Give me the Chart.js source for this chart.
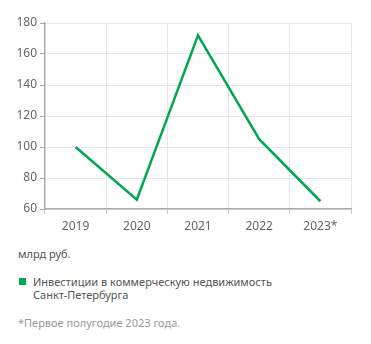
<!DOCTYPE html>
<html>
<head>
<meta charset="utf-8">
<script src="https://cdn.jsdelivr.net/npm/chart.js@4/dist/chart.umd.min.js"></script>
<style>
  body { margin: 0; background: #fff; font-family: "Noto Sans", sans-serif; }
  #wrap { position: relative; width: 371px; height: 240px; }
  .unit { position: absolute; left: 18px; top: 246px; font-size: 11px; color: #555; }
  .legend { position: absolute; left: 19px; top: 275px; font-size: 11px; color: #555; line-height: 13px; }
  .legend .box { position: absolute; left: 0; top: 3px; width: 7px; height: 7px; background: #00a651; }
  .legend .txt { margin-left: 14px; }
  .note { position: absolute; left: 18px; top: 315px; font-size: 11px; color: #999; }
</style>
</head>
<body>
<div id="wrap"><canvas id="myChart"></canvas></div>
<div class="unit">млрд руб.</div>
<div class="legend"><span class="box"></span><div class="txt">Инвестиции в коммерческую недвижимость<br>Санкт-Петербурга</div></div>
<div class="note">*Первое полугодие 2023 года.</div>
<script>
var years = ['2019', '2020', '2021', '2022', '2023*'];
var investments = [100, 66, 172, 105, 65];
var yTicks = [60, 80, 100, 120, 140, 160, 180];

var ctx = document.getElementById('myChart');
var myChart = new Chart(ctx, {
  type: 'line',
  data: {
    labels: years,
    datasets: [{
      label: 'Инвестиции в коммерческую недвижимость Санкт-Петербурга',
      data: investments,
      borderColor: '#00a651',
      backgroundColor: '#00a651',
      borderWidth: 2.5,
      pointRadius: 0,
      tension: 0
    }]
  },
  options: {
    responsive: true,
    maintainAspectRatio: false,
    animation: false,
    layout: { padding: { top: 23, right: 20, left: 0, bottom: 0 } },
    plugins: { legend: { display: false }, tooltip: { enabled: false } },
    scales: {
      x: {
        offset: true,
        grid: { color: '#e6e6e6', offset: true, tickLength: 5, tickColor: '#cccccc' },
        border: { color: '#aaaaaa', width: 1.5 },
        ticks: { color: '#666', font: { family: 'Noto Sans', size: 12 }, padding: 5 },
        afterFit: function(scale) { scale.height = 31; }
      },
      y: {
        min: 60,
        max: 180,
        grid: { color: '#e6e6e6', tickLength: 5, tickColor: '#aaaaaa' },
        border: { color: '#aaaaaa', width: 1.5 },
        afterBuildTicks: function(scale) {
          scale.ticks = yTicks.map(function(v) { return { value: v }; });
        },
        ticks: { color: '#666', font: { family: 'Noto Sans', size: 12 }, padding: 3 },
        afterFit: function(scale) { scale.width = 45; }
      }
    }
  }
});
</script>
</body>
</html>
